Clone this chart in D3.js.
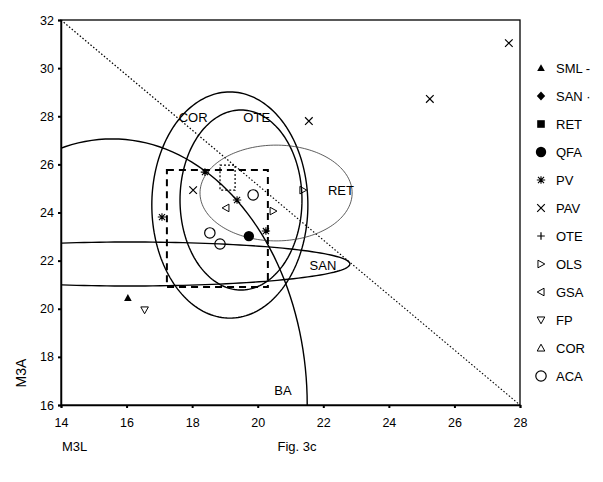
<!DOCTYPE html>
<html>
<head>
<meta charset="utf-8">
<script src="https://cdn.jsdelivr.net/npm/d3@7"></script>
<style>
  body { margin: 0; background: #fff; }
  svg { font-family: "Liberation Sans", Arial, sans-serif; }
</style>
</head>
<body>
<div id="chart"></div>
<script>
// Scatter of M3L vs M3A with group ellipses (Fig. 3c)
const margin = { top: 20, right: 83, bottom: 77, left: 61 };
const width = 603 - margin.left - margin.right;
const height = 482 - margin.top - margin.bottom;

const xTicks = [14, 16, 18, 20, 22, 24, 26, 28];
const yTicks = [16, 18, 20, 22, 24, 26, 28, 30, 32];

// legend order and symbol per group
const groups = ["SML", "SAN", "RET", "QFA", "PV", "PAV", "OTE", "OLS", "GSA", "FP", "COR", "ACA"];
const symbols = ["triUp", "diamond", "square", "dot", "star", "cross", "plus", "triRight", "triLeft", "triDown", "triUpOpen", "circle"];

// specimens: group, M3L, M3A
const ptGroup = ["SML", "FP", "PV", "PV", "PV", "PV", "PAV", "PAV", "PAV", "PAV", "QFA", "ACA", "ACA", "ACA", "OLS", "OLS", "GSA"];
const ptX = [16.04, 16.55, 17.08, 18.39, 19.37, 20.25, 18.03, 21.56, 25.25, 27.66, 19.73, 19.86, 18.54, 18.85, 20.47, 21.38, 19.03];
const ptY = [20.45, 19.95, 23.81, 25.68, 24.52, 23.23, 24.93, 27.80, 28.72, 31.04, 23.02, 24.73, 23.15, 22.69, 24.06, 24.93, 24.19];

// group ranges drawn as ellipses: centre x, centre y, radius x, radius y
const ellName = ["BA", "SAN", "COR", "OTE", "RET"];
const ellCx = [15.56, 16.10, 19.15, 19.49, 20.56];
const ellCy = [16.00, 21.86, 24.31, 24.52, 24.81];
const ellRx = [5.95, 6.71, 2.38, 1.86, 2.32];
const ellRy = [11.06, 0.914, 4.70, 3.74, 1.99];
const ellThin = [false, false, false, false, true];

// labels of the ellipses
const labText = ["COR", "OTE", "RET", "SAN", "BA"];
const labX = [18.03, 19.97, 22.54, 21.99, 20.77];
const labY = [27.93, 27.93, 24.93, 21.82, 16.62];

// ranges drawn as rectangles: x0, x1, y0, y1
const boxX0 = [17.23, 18.85];
const boxX1 = [20.31, 19.31];
const boxY0 = [20.90, 24.93];
const boxY1 = [25.77, 25.97];
const boxDash = ["7,5", "2,2"];

const svgRoot = d3.select("#chart")
    .append("svg")
    .attr("width", 603)
    .attr("height", 482);

const svg = svgRoot.append("g")
    .attr("transform", `translate(${margin.left},${margin.top})`);

const x = d3.scaleLinear().domain([14, 28]).range([0, width]);
const y = d3.scaleLinear().domain([16, 32]).range([height, 0]);

svg.append("clipPath").attr("id", "plotclip")
  .append("rect").attr("width", width).attr("height", height);

// frame
svg.append("rect")
    .attr("width", width)
    .attr("height", height)
    .attr("fill", "none")
    .attr("stroke", "#000")
    .attr("stroke-width", 1.3);

// axes
const xAxis = svg.append("g")
    .attr("transform", `translate(0,${height})`)
    .call(d3.axisBottom(x).tickValues(xTicks).tickSize(3).tickPadding(8));
const yAxis = svg.append("g")
    .call(d3.axisLeft(y).tickValues(yTicks).tickSize(3).tickPadding(4));
[xAxis, yAxis].forEach(a => {
  a.select(".domain").attr("stroke-width", 1.5);
  a.selectAll(".tick line").attr("stroke-width", 2);
  a.selectAll("text").attr("font-size", 12.5).attr("font-family", "Liberation Sans, Arial");
});
xAxis.selectAll("text").attr("dy", "0.9em");

const plot = svg.append("g").attr("clip-path", "url(#plotclip)");

// dotted diagonal
plot.append("line")
    .attr("x1", x(14)).attr("y1", y(32))
    .attr("x2", x(28)).attr("y2", y(16))
    .attr("stroke", "#000")
    .attr("stroke-width", 1.2)
    .attr("stroke-dasharray", "1.5,2");

// ellipses
const angles = d3.range(0, 361, 2).map(a => a * Math.PI / 180);
const line = d3.line();
ellName.forEach((n, i) => {
  const pts = angles.map(t => [x(ellCx[i] + ellRx[i] * Math.cos(t)), y(ellCy[i] + ellRy[i] * Math.sin(t))]);
  plot.append("path")
      .attr("d", line(pts))
      .attr("fill", "none")
      .attr("stroke", ellThin[i] ? "#333" : "#000")
      .attr("stroke-width", ellThin[i] ? 0.8 : 1.4);
});

// rectangles
boxX0.forEach((b, i) => {
  plot.append("rect")
      .attr("x", x(boxX0[i]))
      .attr("y", y(boxY1[i]))
      .attr("width", x(boxX1[i]) - x(boxX0[i]))
      .attr("height", y(boxY0[i]) - y(boxY1[i]))
      .attr("fill", "none")
      .attr("stroke", "#000")
      .attr("stroke-width", i === 0 ? 2 : 1.2)
      .attr("stroke-dasharray", boxDash[i]);
});

// ellipse labels
labText.forEach((t, i) => {
  svg.append("text")
      .attr("x", x(labX[i]))
      .attr("y", y(labY[i]))
      .attr("dy", "0.35em")
      .attr("text-anchor", "middle")
      .attr("font-size", 13)
      .text(t);
});

// marker drawing
function marker(g, type, cx, cy) {
  const s = 3.8;
  const k = g.append("g").attr("transform", `translate(${cx},${cy})`);
  const blk = "#000";
  switch (type) {
    case "triUp":
      k.append("path").attr("d", `M0,${-s}L${s},${s * 0.8}L${-s},${s * 0.8}Z`).attr("fill", blk); break;
    case "triUpOpen":
      k.append("path").attr("d", `M0,${-s}L${s},${s * 0.8}L${-s},${s * 0.8}Z`).attr("fill", "none").attr("stroke", blk).attr("stroke-width", 1); break;
    case "triDown":
      k.append("path").attr("d", `M0,${s}L${s},${-s * 0.8}L${-s},${-s * 0.8}Z`).attr("fill", "none").attr("stroke", blk).attr("stroke-width", 1); break;
    case "triRight":
      k.append("path").attr("d", `M${s},0L${-s * 0.8},${s}L${-s * 0.8},${-s}Z`).attr("fill", "none").attr("stroke", blk).attr("stroke-width", 1); break;
    case "triLeft":
      k.append("path").attr("d", `M${-s},0L${s * 0.8},${s}L${s * 0.8},${-s}Z`).attr("fill", "none").attr("stroke", blk).attr("stroke-width", 1); break;
    case "diamond":
      k.append("path").attr("d", `M0,${-s * 1.2}L${s * 1.1},0L0,${s * 1.2}L${-s * 1.1},0Z`).attr("fill", blk); break;
    case "square":
      k.append("rect").attr("x", -s).attr("y", -s).attr("width", 2 * s).attr("height", 2 * s).attr("fill", blk); break;
    case "dot":
      k.append("circle").attr("r", 5.2).attr("fill", blk); break;
    case "circle":
      k.append("circle").attr("r", 5.2).attr("fill", "none").attr("stroke", blk).attr("stroke-width", 1.2); break;
    case "cross":
      k.append("path").attr("d", `M${-s},${-s}L${s},${s}M${-s},${s}L${s},${-s}`).attr("stroke", blk).attr("stroke-width", 1.2); break;
    case "plus":
      k.append("path").attr("d", `M${-s},0L${s},0M0,${-s}L0,${s}`).attr("stroke", blk).attr("stroke-width", 1.2); break;
    case "star":
      k.append("path").attr("d", `M${-s * 1.1},0L${s * 1.1},0M0,${-s}L0,${s}M${-s * 0.8},${-s * 0.8}L${s * 0.8},${s * 0.8}M${-s * 0.8},${s * 0.8}L${s * 0.8},${-s * 0.8}`).attr("stroke", blk).attr("stroke-width", 1.1); break;
  }
}

// specimens
ptGroup.forEach((gname, i) => {
  marker(svg, symbols[groups.indexOf(gname)], x(ptX[i]), y(ptY[i]));
});

// legend
const legend = svgRoot.append("g").attr("transform", "translate(541,68)");
groups.forEach((gname, i) => {
  const row = legend.append("g").attr("transform", `translate(0,${i * 28})`);
  marker(row, symbols[i], 0, 0);
  row.append("text")
      .attr("x", 15)
      .attr("dy", "0.35em")
      .attr("font-size", 13)
      .text(gname + (i === 0 ? " -" : i === 1 ? " \u00b7" : ""));
});

// axis titles
svgRoot.append("text")
    .attr("transform", "translate(26,373) rotate(-90)")
    .attr("text-anchor", "middle")
    .attr("font-size", 14)
    .text("M3A");
svgRoot.append("text")
    .attr("x", 62)
    .attr("y", 451)
    .attr("font-size", 13)
    .text("M3L");
svgRoot.append("text")
    .attr("x", 297)
    .attr("y", 451)
    .attr("text-anchor", "middle")
    .attr("font-size", 13)
    .text("Fig. 3c");
</script>
</body>
</html>
